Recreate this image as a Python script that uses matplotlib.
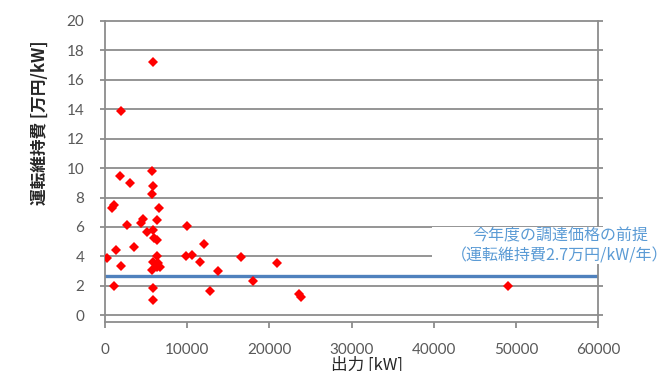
import matplotlib
matplotlib.use("Agg")
import matplotlib.pyplot as plt
from matplotlib.patches import Rectangle

# Data (output kW, O&M cost 万円/kW)
output_kw = [5805, 1911, 1826, 3043, 5684, 5805, 5720, 815, 1095, 6610,
             4661, 4345, 2641, 6268, 5075, 5805, 5963, 6292, 10016, 3590,
             1339, 280, 1911, 6292, 5878, 6487, 6365, 6694, 5684, 9858,
             10588, 12073, 11562, 13693, 1095, 5805, 12780, 5805, 16590, 20970,
             17975, 23670, 23850, 49080]
om_cost = [17.19, 13.86, 9.49, 8.99, 9.80, 8.76, 8.22, 7.29, 7.47, 7.27,
           6.57, 6.27, 6.11, 6.49, 5.66, 5.81, 5.28, 5.14, 6.07, 4.64,
           4.46, 3.89, 3.33, 4.01, 3.62, 3.55, 3.28, 3.28, 3.06, 4.01,
           4.08, 4.86, 3.60, 3.02, 1.99, 1.88, 1.66, 1.07, 3.96, 3.53,
           2.33, 1.43, 1.22, 1.97]
assumed_cost = 2.7
x_ticks = [0, 10000, 20000, 30000, 40000, 50000, 60000]
y_ticks = [0, 2, 4, 6, 8, 10, 12, 14, 16, 18, 20]
ylabel = "運転維持費 [万円/kW]"
xlabel = "出力 [kW]"
note = "今年度の調達価格の前提\n（運転維持費2.7万円/kW/年）"

cjk = ["Noto Sans CJK JP", "DejaVu Sans"]
grid_c = "#8c8c8c"
tick_c = "#595959"

W, H = 664, 371
fig = plt.figure(figsize=(W / 100, H / 100), dpi=100)
ax = fig.add_axes([105 / W, 1 - 322 / H, (598 - 105) / W, (322 - 20.7) / H])

ax.set_xlim(0, 60000)
ax.set_ylim(-0.45, 20)
ax.set_xticks(x_ticks)
ax.set_yticks(y_ticks)
ax.set_xticklabels([str(v) for v in x_ticks], fontfamily="Lato", fontsize=11, color=tick_c)
ax.set_yticklabels([str(v) for v in y_ticks], fontfamily="Lato", fontsize=11, color=tick_c)

for y in y_ticks:
    ax.plot([-0.01, 1.01], [y, y], transform=ax.get_yaxis_transform(),
            color=grid_c, lw=1.3, zorder=1, clip_on=False, solid_capstyle="butt")

ax.tick_params(axis="y", length=0, pad=15)
ax.tick_params(axis="x", direction="out", length=4, width=1.3, color=grid_c, pad=11)
for side in ["left", "right", "bottom"]:
    ax.spines[side].set_color(grid_c)
    ax.spines[side].set_linewidth(1.3)
ax.spines["top"].set_visible(False)

ax.axhline(assumed_cost, color="#4F81BD", lw=2.4, zorder=2)
ax.plot(output_kw, om_cost, linestyle="none", marker="D", markersize=5.2,
        color="#FF0000", markeredgewidth=0, zorder=3)

# white box behind annotation
fig.add_artist(Rectangle((432 / W, 1 - 264 / H), (W - 432) / W, 37 / H,
                         transform=fig.transFigure, facecolor="white",
                         edgecolor="none", zorder=5))
fig.text(560 / W, 1 - 246 / H, note, ha="center", va="center",
         fontsize=11.5, color="#5B9BD5", family=cjk, linespacing=1.2, zorder=6)

fig.text(40 / W, 1 - 123 / H, ylabel, rotation=90, ha="center", va="center",
         fontsize=12, fontweight="bold", family=cjk, color="#262626")
fig.text(367 / W, 1 - 357 / H, xlabel, ha="center", va="top",
         fontsize=12, family=cjk, color="#262626")

fig.savefig("out.png", dpi=100)
